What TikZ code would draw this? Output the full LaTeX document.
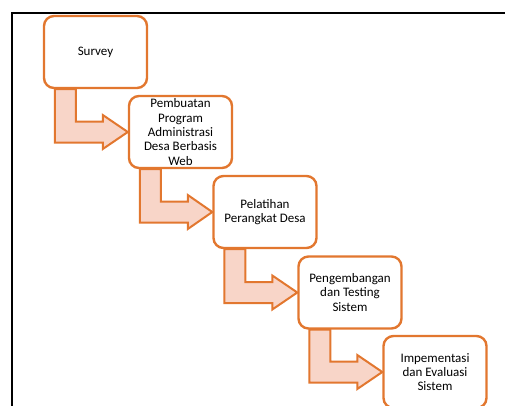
\documentclass[tikz,border=0pt]{standalone}
\usepackage{fontspec}
\setmainfont{Carlito}
\usetikzlibrary{calc}
\definecolor{stepline}{HTML}{E2772F}
\definecolor{stepfill}{HTML}{F8D5C8}
\tikzstyle{stepbox} = [draw=stepline, line width=2.4pt, rounded corners=10pt, fill=white,
	minimum width=103pt, minimum height=72pt, align=center, inner sep=1pt,
	font=\fontsize{13}{14.3}\selectfont]
\tikzstyle{flow} = [draw=stepline, fill=stepfill, line width=2pt, line join=miter]

\begin{document}
\begin{tikzpicture}[x=1pt, y=-1pt]
			\clip (0,0) rectangle (505,405);
			\useasboundingbox (0,0) rectangle (505,405);
			
			% frame
			\draw [line width=2pt] (12,410) -- (12,13) -- (510,13);
			
			% steps
			\node [stepbox] (S1) at (95.5,52)  {Survey};
			\node [stepbox] (S2) at (180.5,132) {Pembuatan\\Program\\Administrasi\\Desa Berbasis\\Web};
			\node [stepbox] (S3) at (265,212)  {Pelatihan\\Perangkat Desa};
			\node [stepbox] (S4) at (350,292.5) {Pengembangan\\dan Testing\\Sistem};
			\node [stepbox] (S5) at (435,372)  {Impementasi\\dan Evaluasi\\Sistem};
			
			% bent arrows between steps
			\foreach \a/\b in {S1/S2, S2/S3, S3/S4, S4/S5}{
				\draw [flow] let \p1 = (\a.south west), \p2 = (\b.west) in
					(\x1+12pt,\y1) -- (\x1+33pt,\y1) -- (\x1+33pt,\y2+10.5pt)
					-- (\x1+60pt,\y2+10.5pt) -- (\x1+60pt,\y2+17pt) -- (\p2)
					-- (\x1+60pt,\y2-17pt) -- (\x1+60pt,\y2-10.5pt)
					-- (\x1+12pt,\y2-10.5pt) -- cycle;
			}
			
			\end{tikzpicture}
\end{document}
